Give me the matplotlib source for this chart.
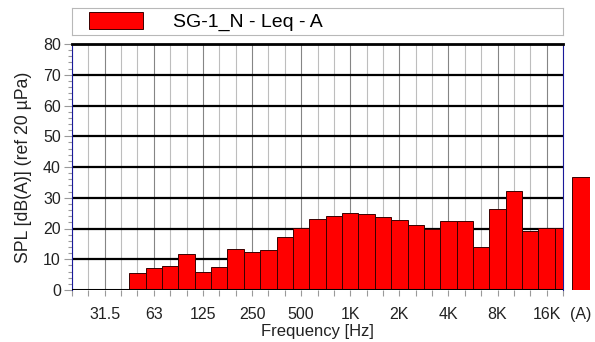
import matplotlib.pyplot as plt
import numpy as np

plt.rcParams['font.family'] = ['Liberation Sans', 'DejaVu Sans']

# 1/3-octave bands from 20 Hz to 20 kHz
bands = ['20', '25', '31.5', '40', '50', '63', '80', '100', '125', '160', '200',
         '250', '315', '400', '500', '630', '800', '1K', '1.25K', '1.6K', '2K',
         '2.5K', '3.15K', '4K', '5K', '6.3K', '8K', '10K', '12.5K', '16K', '20K']
leq = [0, 0, 0, 0, 5.6, 7.1, 7.9, 11.7, 5.8, 7.6, 13.4,
       12.2, 13.0, 17.2, 20.3, 23.0, 24.2, 25.0, 24.6, 23.7, 22.8,
       21.2, 19.9, 22.4, 22.6, 14.1, 26.5, 32.1, 19.2, 20.3, 20.3]
total_a = 36.6
octave_labels = ['31.5', '63', '125', '250', '500', '1K', '2K', '4K', '8K', '16K']

W, H = 595, 342
fig = plt.figure(figsize=(W / 100, H / 100), dpi=100)
ax = fig.add_axes([72 / W, 52 / H, 491 / W, 246 / H])

x = np.arange(len(bands))
nonzero = [i for i, v in enumerate(leq) if v > 0]
bars = ax.bar(x[nonzero], [leq[i] for i in nonzero], width=1.0, color='#ff0000',
              edgecolor='#3a0000', linewidth=0.7, zorder=3, label='SG-1_N - Leq - A')

ax.set_xlim(0, len(bands) - 1)
ax.set_ylim(0, 80)

# grid: thin gray per band, darker per octave, black every 10 dB
for i in x:
    c = '#858585' if bands[i] in octave_labels else '#bdbdbd'
    ax.axvline(i, color=c, linewidth=0.8, zorder=1)
for y in range(10, 81, 10):
    ax.axhline(y, color='black', linewidth=1.6, zorder=2)
ax.axhline(0, color='black', linewidth=2.2, zorder=4)

ax.set_yticks(range(0, 81, 10))
ax.set_yticks(range(0, 81, 2), minor=True)
ax.set_xticks(x, minor=True)
ax.set_xticks([bands.index(b) for b in octave_labels])
ax.set_xticklabels(octave_labels)
ax.tick_params(axis='both', which='both', colors='#9a9a9a', labelcolor='#222222',
               labelsize=11.5, width=0.8)
ax.tick_params(axis='y', which='major', length=6, pad=2)
ax.tick_params(axis='y', which='minor', length=3)
ax.tick_params(axis='x', which='both', length=4, pad=8)

ax.spines['left'].set_color('#1a1a9a')
ax.spines['right'].set_color('#1a1a9a')
ax.spines['top'].set_color('black')
ax.spines['top'].set_linewidth(2.0)
ax.spines['bottom'].set_visible(False)

ax.set_xlabel('Frequency [Hz]', fontsize=12, color='#222222', labelpad=2)
ax.set_ylabel('SPL [dB(A)] (ref 20 µPa)', fontsize=12.7, color='#222222', labelpad=8)

# overall A-weighted level beside the spectrum
ax_a = fig.add_axes([572 / W, 52 / H, 18 / W, 246 / H])
ax_a.bar([0], [total_a], width=1.0, color='#ff0000', edgecolor='#3a0000', linewidth=0.7)
ax_a.set_xlim(-0.5, 0.5)
ax_a.set_ylim(0, 80)
ax_a.set_xticks([0])
ax_a.set_xticklabels(['(A)'])
ax_a.set_yticks([])
ax_a.tick_params(axis='x', length=0, pad=12, labelsize=11.5, labelcolor='#222222')
for s in ax_a.spines.values():
    s.set_visible(False)

# legend strip above the plot
ax_leg = fig.add_axes([72 / W, (H - 35) / H, 491 / W, 27 / H])
ax_leg.set_xticks([])
ax_leg.set_yticks([])
for s in ax_leg.spines.values():
    s.set_color('#b8b8b8')
    s.set_linewidth(0.8)
fs = 14
px = fs * 100 / 72
ax_leg.legend(handles=[bars], loc='center left', bbox_to_anchor=(17 / 491, 0.5),
              frameon=False, fontsize=fs, borderpad=0, borderaxespad=0,
              handlelength=54 / px, handleheight=20 / px, handletextpad=30 / px)

fig.savefig('out.png', dpi=100, facecolor='white')
